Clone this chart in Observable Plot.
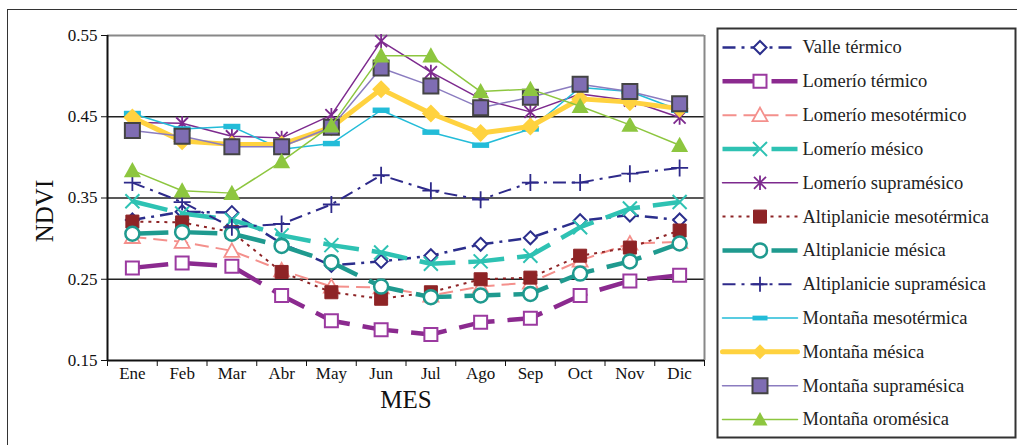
<!DOCTYPE html>
<html><head><meta charset="utf-8">
<script src="https://cdn.jsdelivr.net/npm/d3@7"></script>
<script src="https://cdn.jsdelivr.net/npm/@observablehq/plot@0.6"></script>
<style>
html,body{margin:0;padding:0;background:#fff;overflow:hidden;}
#wrap{position:relative;width:1017px;height:445px;font-family:"Liberation Serif","Times New Roman",serif;}
#border{position:absolute;left:7px;top:9px;width:1100px;height:600px;border:1.5px solid #333;}
#chart{position:absolute;left:0;top:0;}
#legend{position:absolute;left:716px;top:27px;}
svg text{font-family:"Liberation Serif","Times New Roman",serif !important;}
</style></head><body>
<div id="wrap"><div id="border"></div><div id="chart"></div><div id="legend"></div></div>
<script>
// ---- data ----
const months = ["Ene","Feb","Mar","Abr","May","Jun","Jul","Ago","Sep","Oct","Nov","Dic"];
const yTicks = [0.15, 0.25, 0.35, 0.45, 0.55];
const seriesNames = ["Valle térmico","Lomerío térmico","Lomerío mesotérmico","Lomerío mésico","Lomerío supramésico","Altiplanicie mesotérmica","Altiplanicie mésica","Altiplanicie supramésica","Montaña mesotérmica","Montaña mésica","Montaña supramésica","Montaña oromésica"];
const valleTermico       = [0.323,0.333,0.332,0.294,0.267,0.272,0.279,0.293,0.301,0.322,0.329,0.323];
const lomerioTermico     = [0.264,0.270,0.266,0.230,0.199,0.188,0.182,0.197,0.202,0.230,0.248,0.255];
const lomerioMesotermico = [0.302,0.296,0.285,0.261,0.241,0.240,0.230,0.241,0.246,0.273,0.294,0.296];
const lomerioMesico      = [0.346,0.331,0.323,0.304,0.292,0.283,0.269,0.272,0.279,0.314,0.337,0.345];
const lomerioSupramesico = [0.443,0.442,0.426,0.424,0.452,0.543,0.505,0.472,0.456,0.478,0.470,0.449];
const altiMesotermica    = [0.321,0.320,0.308,0.259,0.234,0.226,0.234,0.250,0.252,0.279,0.289,0.310];
const altiMesica         = [0.306,0.308,0.306,0.291,0.271,0.241,0.228,0.230,0.232,0.257,0.272,0.294];
const altiSupramesica    = [0.369,0.345,0.314,0.318,0.342,0.378,0.359,0.348,0.369,0.369,0.380,0.387];
const montMesotermica    = [0.454,0.435,0.438,0.410,0.417,0.458,0.431,0.415,0.435,0.486,0.481,0.458];
const montMesica         = [0.449,0.420,0.416,0.416,0.437,0.484,0.454,0.430,0.438,0.472,0.468,0.460];
const montSupramesica    = [0.433,0.426,0.413,0.413,0.437,0.510,0.488,0.461,0.474,0.490,0.481,0.466];
const montOromesica      = [0.384,0.359,0.356,0.395,0.439,0.525,0.525,0.481,0.484,0.463,0.440,0.415];
const seriesValues = [valleTermico,lomerioTermico,lomerioMesotermico,lomerioMesico,lomerioSupramesico,altiMesotermica,altiMesica,altiSupramesica,montMesotermica,montMesica,montSupramesica,montOromesica];

// ---- symbols (r = half extent) ----
const R = s => Math.sqrt(s / Math.PI);
const sym = {
  square:  {draw(c,s){const r=R(s); c.rect(-r,-r,2*r,2*r);}},
  diamond: {draw(c,s){const r=R(s); c.moveTo(0,-r);c.lineTo(r,0);c.lineTo(0,r);c.lineTo(-r,0);c.closePath();}},
  triangle:{draw(c,s){const r=R(s); c.moveTo(0,-r);c.lineTo(r,r*0.8);c.lineTo(-r,r*0.8);c.closePath();}},
  times:   {draw(c,s){const r=R(s); c.moveTo(-r,-r);c.lineTo(r,r);c.moveTo(r,-r);c.lineTo(-r,r);}},
  asterisk:{draw(c,s){const r=R(s); c.moveTo(-r,-r);c.lineTo(r,r);c.moveTo(r,-r);c.lineTo(-r,r);c.moveTo(0,-r*1.2);c.lineTo(0,r*1.2);}},
  plus:    {draw(c,s){const r=R(s); c.moveTo(-r,0);c.lineTo(r,0);c.moveTo(0,-r);c.lineTo(0,r);}},
  circle:  {draw(c,s){const r=R(s); c.moveTo(r,0);c.arc(0,0,r,0,2*Math.PI);c.closePath();}},
  bar:     {draw(c,s){const r=R(s); c.rect(-r,-r*0.32,2*r,r*0.64);}}
};

// ---- styles ----
const styles = [
  {stroke:"#2B2E8C", w:2.5, dash:"13,6,3,6", sym:"diamond", r:6.5, fill:"white", mstroke:"#2B2E8C", mw:2},
  {stroke:"#8B2A8F", w:4.5, dash:"36,13", sym:"square", r:6.5, fill:"white", mstroke:"#9B3AA0", mw:2},
  {stroke:"#F4908C", w:2, dash:"14,7", sym:"triangle", r:7.5, fill:"white", mstroke:"#F4908C", mw:1.8},
  {stroke:"#2EC2B3", w:4.5, dash:"36,13", sym:"times", r:7, fill:"none", mstroke:"#2EC2B3", mw:2},
  {stroke:"#7D2A8E", w:1.5, dash:null, sym:"asterisk", r:6, fill:"none", mstroke:"#7D2A8E", mw:1.8},
  {stroke:"#8E2426", w:2, dash:"3,5", sym:"square", r:6.5, fill:"#8E2426", mstroke:"#8E2426", mw:1},
  {stroke:"#1F9A8F", w:4.5, dash:"36,13", sym:"circle", r:7, fill:"white", mstroke:"#1F9A8F", mw:2.5},
  {stroke:"#2E2A8A", w:2, dash:"13,6,3,6", sym:"plus", r:8.5, fill:"none", mstroke:"#2E2A8A", mw:1.8},
  {stroke:"#23BCD8", w:1.5, dash:null, sym:"bar", r:8.5, fill:"#23BCD8", mstroke:"none", mw:0},
  {stroke:"#FFD23F", w:5, dash:null, sym:"diamond", r:9, fill:"#FFD23F", mstroke:"none", mw:0},
  {stroke:"#8B7CC0", w:1.5, dash:null, sym:"square", r:7.5, fill:"#7F6DB3", mstroke:"#444", mw:2},
  {stroke:"#8DC63F", w:1.5, dash:null, sym:"triangle", r:8.5, fill:"#8DC63F", mstroke:"none", mw:0}
];

function lineOpts(st) {
  const o = {stroke: st.stroke, strokeWidth: st.w, strokeLinejoin: "round", strokeLinecap: st.dash ? "butt" : "round"};
  if (st.dash) o.strokeDasharray = st.dash;
  return o;
}
function dotOpts(st) {
  return {symbol: sym[st.sym], r: st.r, fill: st.fill, stroke: st.mstroke, strokeWidth: st.mw};
}

const font = '"Liberation Serif", "Times New Roman", serif';

// ---- main chart ----
const marks = [
  Plot.ruleY([0.25, 0.35, 0.45], {stroke: "#222", strokeWidth: 1.5}),
  Plot.ruleY([0.55], {stroke: "#888", strokeWidth: 2}),
  Plot.ruleX([12], {y1: 0.15, y2: 0.55, stroke: "#888", strokeWidth: 2}),
  Plot.ruleX([0], {y1: 0.15, y2: 0.55, stroke: "#111", strokeWidth: 2}),
  Plot.ruleY([0.15], {stroke: "#111", strokeWidth: 2}),
  Plot.axisY({ticks: yTicks, tickFormat: d3.format(".2f"), tickSize: 6, tickPadding: 4, fontSize: 17, fontFamily: font, label: null}),
  Plot.axisX({ticks: d3.range(months.length + 1), tickFormat: () => "", tickSize: 6, label: null}),
  Plot.axisX({ticks: months.map((m, i) => i + 0.5), tickFormat: t => months[Math.floor(t)], tickSize: 0, tickPadding: 6, fontSize: 17, fontFamily: font, label: null}),
  Plot.text(["MES"], {frameAnchor: "bottom", textAnchor: "middle", dy: 47, fontSize: 25, fontFamily: font, fill: "#111"}),
  Plot.text(["NDVI"], {frameAnchor: "middle", textAnchor: "middle", dx: -361, dy: 13, rotate: -90, fontSize: 25, fontFamily: font, fill: "#111"})
];
seriesNames.forEach((name, k) => {
  const rows = seriesValues[k].map((v, i) => ({mes: months[i], idx: i, v}));
  const st = styles[k];
  marks.push(Plot.line(rows, {x: d => d.idx + 0.5, y: "v", ...lineOpts(st)}));
  marks.push(Plot.dot(rows, {x: d => d.idx + 0.5, y: "v", ...dotOpts(st)}));
});

const chart = Plot.plot({
  width: 1017, height: 445,
  marginLeft: 107, marginRight: 313, marginTop: 35, marginBottom: 85,
  x: {domain: [0, months.length]},
  y: {domain: [0.15, 0.55]},
  style: {fontFamily: font, fontSize: "17px", color: "#111", background: "transparent", overflow: "visible"},
  marks
});
document.getElementById("chart").appendChild(chart);

// ---- legend ----
const lmarks = [Plot.frame({stroke: "#333", strokeWidth: 2})];
seriesNames.forEach((name, k) => {
  const st = styles[k];
  const seg = [{x: 0, k}, {x: 1, k}];
  lmarks.push(Plot.line(seg, {x: "x", y: "k", ...lineOpts(st)}));
  lmarks.push(Plot.dot([{x: 0.5, k}], {x: "x", y: "k", ...dotOpts(st), r: Math.min(st.r, 7.5)}));
});
lmarks.push(Plot.text(seriesNames, {x: () => 1, y: (d, i) => i, text: d => d, textAnchor: "start", dx: 5, fontSize: 18.5, fontFamily: font, fill: "#222"}));

const legend = Plot.plot({
  width: 300, height: 411,
  marginLeft: 1, marginRight: 1, marginTop: 1, marginBottom: 1,
  x: {domain: [0, 1], range: [6, 81], axis: null},
  y: {domain: [0, seriesNames.length - 1], range: [20, 392], axis: null},
  style: {fontFamily: font, fontSize: "18px", color: "#222", background: "white", overflow: "visible"},
  marks: lmarks
});
document.getElementById("legend").appendChild(legend);
</script>
</body></html>
